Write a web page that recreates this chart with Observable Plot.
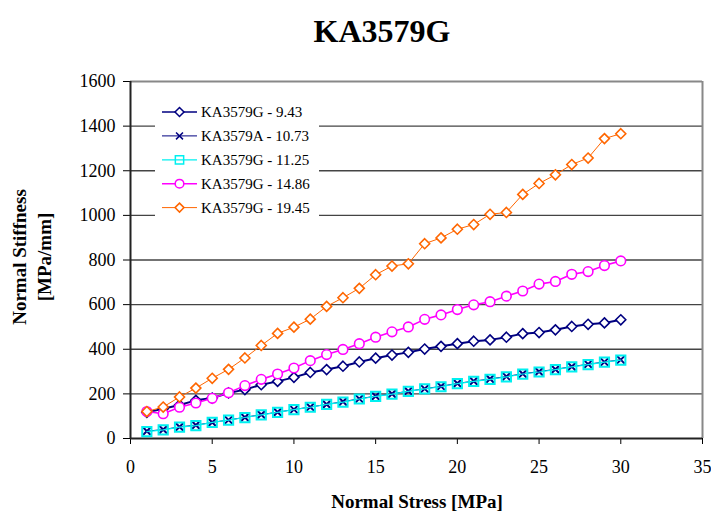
<!DOCTYPE html>
<html><head><meta charset="utf-8">
<script src="https://cdn.jsdelivr.net/npm/d3@7"></script>
<script src="https://cdn.jsdelivr.net/npm/@observablehq/plot@0.6"></script>
<style>body{margin:0;background:#fff;}</style>
</head><body><div id="chart"></div>
<script>
const title = "KA3579G";
const xLabel = "Normal Stress [MPa]";
const yLabel = ["Normal Stiffness", "[MPa/mm]"];
const xTicks = [0, 5, 10, 15, 20, 25, 30, 35];
const yTicks = [0, 200, 400, 600, 800, 1000, 1200, 1400, 1600];
const stress = [1,2,3,4,5,6,7,8,9,10,11,12,13,14,15,16,17,18,19,20,21,22,23,24,25,26,27,28,29,30];
const seriesNames = ["KA3579G - 9.43", "KA3579A - 10.73", "KA3579G - 11.25", "KA3579G - 14.86", "KA3579G - 19.45"];
const s943  = [117,133,150,171,181,204,219,241,256,274,296,309,324,343,360,374,386,401,413,425,436,442,454,470,475,487,502,512,518,532];
const s1073 = [33,40,52,60,72,83,95,107,118,130,141,153,165,178,190,200,212,223,234,247,257,267,278,290,300,310,322,333,343,353];
const s1125 = [31,39,51,58,72,82,94,106,117,129,140,153,163,177,189,199,211,222,232,246,256,265,276,289,298,309,321,331,342,351];
const s1486 = [121,111,140,159,180,205,237,265,289,316,349,376,399,425,454,478,500,534,554,578,599,613,638,661,692,704,736,748,775,796];
const s1945 = [121,141,186,226,270,310,361,417,471,499,535,592,631,673,734,773,783,873,899,938,959,1005,1013,1094,1143,1182,1228,1257,1344,1366];
const seriesValues = [s943, s1073, s1125, s1486, s1945];

const styles = [
  {color: "#000080", line: 2, symbol: "diamond2", r: 4.5, fill: "white", sw: 1.6},
  {color: "#000080", line: 1, symbol: "times", r: 3.6, fill: "none", sw: 2},
  {color: "#00f0f0", line: 1.2, symbol: "square", r: 5.2, fill: "none", sw: 2},
  {color: "#ff00ff", line: 1.6, symbol: "circle", r: 4.8, fill: "white", sw: 1.6},
  {color: "#ff6600", line: 1, symbol: "diamond2", r: 4.5, fill: "white", sw: 1.6}
];

const data = seriesNames.map((name, i) => stress.map((x, j) => ({series: name, x, y: seriesValues[i][j]})));

const font = "'Liberation Serif', 'Times New Roman', serif";
const seriesMarks = data.flatMap((d, i) => [
  Plot.line(d, {x: "x", y: "y", stroke: styles[i].color, strokeWidth: styles[i].line}),
  Plot.dot(d, {x: "x", y: "y", symbol: styles[i].symbol, r: styles[i].r, stroke: styles[i].color, fill: styles[i].fill, strokeWidth: styles[i].sw})
]);

const plot = Plot.plot({
  width: 711, height: 520,
  marginLeft: 130, marginRight: 9, marginTop: 81, marginBottom: 82,
  style: {fontFamily: font, fontSize: "18px", background: "white", color: "black", overflow: "visible"},
  x: {domain: [0, 35], label: null},
  y: {domain: [0, 1600], label: null},
  marks: [
    Plot.ruleY(yTicks.filter(d => d > 0 && d < 1600), {stroke: "#444", strokeWidth: 1.3}),
    Plot.ruleY([1600], {stroke: "#888", strokeWidth: 2}),
    Plot.ruleX([35], {stroke: "#888", strokeWidth: 2}),
    Plot.axisY({ticks: yTicks, tickFormat: d => String(d), tickSize: 7, tickPadding: 8, fontSize: 18, fontFamily: font, stroke: "#000"}),
    Plot.axisX({ticks: xTicks, tickFormat: d => String(d), tickSize: 6, tickPadding: 16, fontSize: 18, fontFamily: font, stroke: "#000"}),
    Plot.ruleX([0], {stroke: "#222", strokeWidth: 2}),
    Plot.ruleY([0], {stroke: "#222", strokeWidth: 2}),
    ...seriesMarks
  ]
});

const svg = d3.select(plot);
svg.append("text").attr("x", 382).attr("y", 42).attr("text-anchor", "middle")
  .attr("font-family", font).attr("font-weight", "bold").attr("font-size", 32).text(title);
svg.append("text").attr("x", 417).attr("y", 508).attr("text-anchor", "middle")
  .attr("font-family", font).attr("font-weight", "bold").attr("font-size", 19).text(xLabel);
yLabel.forEach((t, i) => {
  svg.append("text").attr("transform", `translate(${26 + i * 25},257) rotate(-90)`).attr("text-anchor", "middle")
    .attr("font-family", font).attr("font-weight", "bold").attr("font-size", 19).text(t);
});

const leg = svg.append("g");
leg.append("rect").attr("x", 155).attr("y", 97).attr("width", 164).attr("height", 124).attr("fill", "white");
const symMap = {diamond2: d3.symbolDiamond2, times: d3.symbolTimes, square: d3.symbolSquare, circle: d3.symbolCircle};
seriesNames.forEach((name, i) => {
  const yy = 112 + i * 23.9;
  const s = styles[i];
  leg.append("line").attr("x1", 162).attr("x2", 197).attr("y1", yy).attr("y2", yy)
    .attr("stroke", s.color).attr("stroke-width", Math.min(s.line, 1.5));
  const rr = s.r * 0.9;
  leg.append("path").attr("transform", `translate(179.5,${yy})`)
    .attr("d", d3.symbol(symMap[s.symbol], Math.PI * rr * rr)())
    .attr("fill", s.fill).attr("stroke", s.color).attr("stroke-width", 1.5);
  leg.append("text").attr("x", 201).attr("y", yy).attr("dy", "0.35em").attr("text-anchor", "start")
    .attr("font-family", font).attr("font-size", 15).text(name);
});

document.getElementById("chart").append(plot);
</script>
</body></html>
